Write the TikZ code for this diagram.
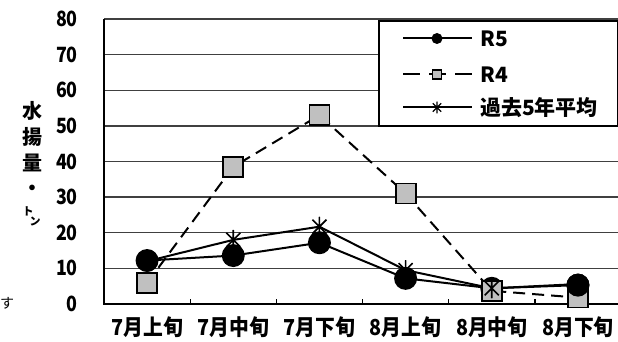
\documentclass[tikz,border=0pt]{standalone}
\usepackage{fontspec}
\newfontfamily\jp{Noto Sans CJK JP}[FakeStretch=0.9]
\newfontfamily\jpn{Noto Sans CJK JP}[FakeStretch=0.85]
\newfontfamily\jpw{Noto Sans CJK JP}
\definecolor{sqfill}{HTML}{C0C0C0}
\definecolor{gridc}{HTML}{404040}
\begin{document}
\begin{tikzpicture}[x=1pt,y=-1pt,
  grid/.style={draw=gridc,line width=1.3pt},
  axis/.style={draw=black,line width=1.6pt},
  ser/.style={draw=black,line width=2pt},
  serdash/.style={ser,dash pattern=on 12pt off 7pt},
  dotmark/.style={circle,fill=black,inner sep=0pt,minimum size=23pt},
  sqmark/.style={rectangle,fill=sqfill,draw=black,line width=1.8pt,inner sep=0pt,minimum size=20pt},
  astmark/.style={circle,inner sep=0pt,minimum size=20pt,path picture={
     \draw[black,line width=1.6pt] (path picture bounding box.north) -- (path picture bounding box.south)
       (path picture bounding box.north west) -- (path picture bounding box.south east)
       (path picture bounding box.north east) -- (path picture bounding box.south west);}},
  ldot/.style={circle,fill=black,inner sep=0pt,minimum size=11pt},
  lsq/.style={rectangle,fill=sqfill,draw=black,line width=1.4pt,inner sep=0pt,minimum size=9pt},
  last/.style={circle,inner sep=0pt,minimum size=12pt,path picture={
     \draw[black,line width=1.4pt] (path picture bounding box.north) -- (path picture bounding box.south)
       (path picture bounding box.north west) -- (path picture bounding box.south east)
       (path picture bounding box.north east) -- (path picture bounding box.south west);}},
  ticklab/.style={font=\jpn\bfseries\fontsize{21}{21}\selectfont,anchor=east,inner sep=0pt},
  catlab/.style={font=\jp\bfseries\fontsize{22}{22}\selectfont,inner sep=0pt},
  leglab/.style={font=\jpw\bfseries\fontsize{21}{21}\selectfont,anchor=west,inner sep=0pt},
  ylab/.style={font=\jpw\bfseries\fontsize{20}{20}\selectfont,inner sep=0pt}
]
\useasboundingbox[fill=white] (0,0) rectangle (618,342);
% grid lines
\foreach \v in {10,20,...,80}{
  \draw[grid] (104,{304-3.5625*\v}) -- (620,{304-3.5625*\v});
}
% axes
\coordinate (o) at (104,304);
\coordinate (ytop) at (104,19);
\coordinate (xend) at (620,304);
\draw[axis] (ytop) -- (o) -- (xend);
\foreach \i in {1,...,5}{
  \draw[axis,line width=1.3pt] ({104+86.17*\i},304) -- ({104+86.17*\i},299);
}
% tick labels
\foreach \v in {0,10,...,80}{
  \node[ticklab] (t\v) at (78,{304-3.5625*\v}) {\v};
}
% category labels
\foreach \t [count=\i] in {7月上旬,7月中旬,7月下旬,8月上旬,8月中旬,8月下旬}{
  \node[catlab] (c\i) at ({104+86.17*(\i-0.5)},327) {\t};
}
% y axis title
\node[ylab] (y1) at (33,111) {水};
\node[ylab] (y2) at (33,137) {揚};
\node[ylab] (y3) at (33,163) {量};
\node[ylab] (y4) at (33,190) {・};
\node[font=\jpw\bfseries\fontsize{11}{11}\selectfont,inner sep=0pt] (y5) at (28,211) {ト};
\node[font=\jpw\bfseries\fontsize{11}{11}\selectfont,inner sep=0pt] (y6) at (35,221) {ン};
\node[font=\jpw\fontsize{14}{14}\selectfont,inner sep=0pt] (su) at (7,303) {す};
% data coordinates
\foreach \v [count=\i] in {12.2,13.6,17.2,7.2,4.4,5.3}{
  \coordinate (a\i) at ({104+86.17*(\i-0.5)},{304-3.5625*\v});
}
\foreach \v [count=\i] in {5.9,38.5,53,31,3.7,1.8}{
  \coordinate (b\i) at ({104+86.17*(\i-0.5)},{304-3.5625*\v});
}
\foreach \v [count=\i] in {12,18,21.7,9.5,4.4,5.6}{
  \coordinate (p\i) at ({104+86.17*(\i-0.5)},{304-3.5625*\v});
}
% series lines
\draw[ser] (a1) -- (a2) -- (a3) -- (a4) -- (a5) -- (a6);
\draw[serdash] (b1) -- (b2) -- (b3) -- (b4) -- (b5) -- (b6);
\draw[ser] (p1) -- (p2) -- (p3) -- (p4) -- (p5) -- (p6);
% markers
\foreach \i in {1,...,6}{ \node[dotmark] (ma\i) at (a\i) {}; }
\foreach \i in {1,...,6}{ \node[sqmark] (mb\i) at (b\i) {}; }
\node[dotmark] (ma6b) at (a6) {};
\foreach \i in {1,...,6}{ \node[astmark] (mp\i) at (p\i) {}; }
% legend
\draw[draw=black,line width=1.4pt,fill=white] (379,21) rectangle (618,126);
\coordinate (l1a) at (403,38.5); \coordinate (l1b) at (472,38.5);
\coordinate (l2a) at (403,74.5); \coordinate (l2b) at (472,74.5);
\coordinate (l3a) at (403,107.5); \coordinate (l3b) at (472,107.5);
\draw[ser] (l1a) -- (l1b);
\draw[ser,dash pattern=on 17pt off 9pt] (l2a) -- (l2b);
\draw[ser] (l3a) -- (l3b);
\node[ldot] (lm1) at (437,38.5) {};
\node[lsq] (lm2) at (437,74.5) {};
\node[last] (lm3) at (437,107.5) {};
\node[leglab] (lt1) at (480,38.5) {R5};
\node[leglab] (lt2) at (480,74.5) {R4};
\node[leglab] (lt3) at (480,107.5) {過去5年平均};
\end{tikzpicture}
\end{document}
